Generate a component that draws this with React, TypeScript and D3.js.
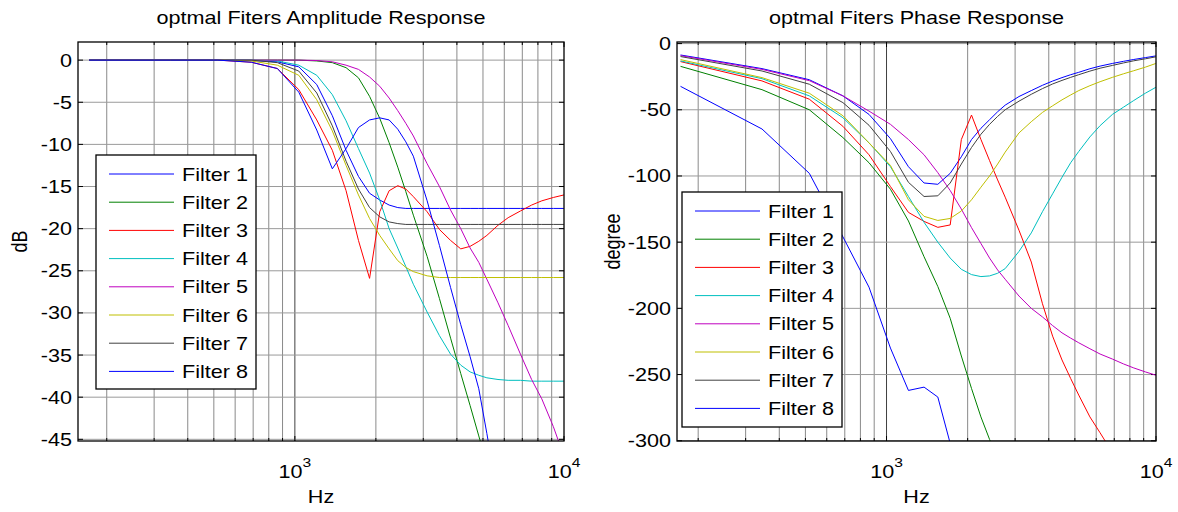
import React from "react";
import * as d3 from "d3";

// ---------- data ----------
const FREQ = [172, 345, 517, 689, 861, 1034, 1206, 1378, 1550, 1723, 1895, 2067, 2240, 2412, 2584, 2756, 3101, 3445, 3790, 4134, 4479, 4824, 5168, 5685, 6202, 6891, 7580, 8269, 9130, 9992];

const SERIES = ["Filter 1", "Filter 2", "Filter 3", "Filter 4", "Filter 5", "Filter 6", "Filter 7", "Filter 8"];
const COLORS = ["#0000ff", "#008000", "#ff0000", "#00bfbf", "#bf00bf", "#bfbf00", "#404040", "#0000ff"];

type V = number | null;
const AMP_F1: V[] = [0, 0, 0, -0.05, -0.2, -0.8, -2.9, -6.6, -10.7, -13.8, -15.8, -16.6, -17.2, -17.5, -17.6, -17.6, -17.6, -17.6, -17.6, -17.6, -17.6, -17.6, -17.6, -17.6, -17.6, -17.6, -17.6, -17.6, -17.6, -17.6];
const AMP_F2: V[] = [0, 0, 0, 0, 0, 0, -0.1, -0.3, -0.9, -2.1, -4.3, -6.9, -9.8, -12.7, -15.6, -18.4, -23.3, -28.3, -33.0, -37.2, -41.0, -44.6, -48.0, null, null, null, null, null, null, null];
const AMP_F3: V[] = [0, 0, 0, -0.25, -1.0, -3.5, -7.1, -10.7, -15.5, -21.4, -25.9, -18.0, -15.5, -14.9, -15.3, -16.2, -18.0, -20.1, -21.4, -22.4, -22.1, -21.5, -20.8, -19.6, -18.7, -17.9, -17.2, -16.7, -16.3, -16.0];
const AMP_F4: V[] = [0, 0, 0, 0, -0.1, -0.6, -1.8, -4.1, -7.2, -10.5, -13.4, -16.6, -20.0, -22.3, -24.5, -26.6, -29.9, -32.7, -34.9, -36.2, -37.0, -37.4, -37.7, -37.9, -38.0, -38.0, -38.1, -38.1, -38.1, -38.1];
const AMP_F5: V[] = [0, 0, 0, 0, 0, 0, -0.05, -0.2, -0.6, -1.1, -2.0, -3.1, -4.5, -6.0, -7.5, -9.0, -12.3, -15.0, -17.8, -20.0, -22.3, -24.0, -26.0, -28.8, -31.5, -34.9, -37.9, -40.2, -43.5, -47.0];
const AMP_F6: V[] = [0, 0, 0, -0.1, -0.6, -1.8, -4.7, -8.4, -12.5, -16.0, -18.8, -20.8, -22.4, -23.8, -24.6, -25.1, -25.6, -25.8, -25.8, -25.8, -25.8, -25.8, -25.8, -25.8, -25.8, -25.8, -25.8, -25.8, -25.8, -25.8];
const AMP_F7: V[] = [0, 0, 0, 0, -0.3, -1.3, -3.9, -7.8, -12.0, -15.3, -17.5, -18.6, -19.2, -19.4, -19.5, -19.5, -19.5, -19.5, -19.5, -19.5, -19.5, -19.5, -19.5, -19.5, -19.5, -19.5, -19.5, -19.5, -19.5, -19.5];
const AMP_F8: V[] = [0, 0, 0, -0.25, -1.0, -3.8, -8.3, -12.9, -10.5, -8.0, -7.1, -6.85, -7.1, -8.2, -9.7, -11.4, -16.7, -22.0, -27.0, -31.4, -35.2, -39.0, -44.3, -52.0, null, null, null, null, null, null];

const PH_F1: V[] = [-8.6, -18.9, -27.3, -39.5, -53.5, -71.8, -93, -105.3, -106.3, -98, -85.5, -72.5, -64, -57.5, -51.5, -46.5, -40, -35.5, -31.5, -28.3, -25.7, -23.5, -21.7, -19, -17, -15, -13.4, -12, -10.6, -9.3];
const PH_F2: V[] = [-17.2, -34.8, -50, -71, -90, -110, -134, -161, -183.5, -207.5, -236, -260.5, -282, -299, -314, null, null, null, null, null, null, null, null, null, null, null, null, null, null, null];
const PH_F3: V[] = [-13.6, -28.2, -42, -62.5, -84, -108, -127.5, -134.3, -138.8, -137, -72.5, -54, -72.4, -88.4, -103, -116, -141, -165, -196.5, -221, -239, -253, -265.5, -282, -294, -309, null, null, null, null];
const PH_F4: V[] = [-13.1, -26.5, -39.5, -56, -75, -93, -115.5, -135, -150, -162, -170.5, -174.5, -176, -175.5, -173.5, -170, -157, -143, -127, -113.5, -101, -90, -81.5, -70.5, -62, -53.5, -48, -43, -37.5, -33];
const PH_F5: V[] = [-9.1, -19.5, -28, -39.5, -51, -61, -72.5, -84, -97.5, -111, -125, -139, -151, -162, -171, -178, -190.7, -200, -206.5, -213, -218.5, -222.5, -226, -230.5, -234.5, -238.3, -242, -245, -248, -250.5];
const PH_F6: V[] = [-12.1, -25.7, -37.5, -54.5, -75, -92, -118, -130.5, -133.6, -132.1, -126.5, -118, -108.5, -100, -91, -82, -67.5, -59, -52, -47, -42.5, -38.8, -35.5, -31.8, -28.8, -25.5, -22.8, -20.5, -17.8, -15];
const PH_F7: V[] = [-9.8, -20.7, -30.7, -44.6, -61.7, -81.5, -104.8, -115.5, -115, -105.3, -91, -78.5, -68.5, -61, -55, -50, -43.5, -38.3, -34, -30.5, -27.8, -25.5, -23.5, -20.8, -18.6, -16.5, -14.6, -13, -11.5, -10.0];
const PH_F8: V[] = [-32.3, -64.5, -98, -146, -184, -230, -262, -259.5, -267, -302, null, null, null, null, null, null, null, null, null, null, null, null, null, null, null, null, null, null, null, null];

const AMP = [AMP_F1, AMP_F2, AMP_F3, AMP_F4, AMP_F5, AMP_F6, AMP_F7, AMP_F8];
const PHASE = [PH_F1, PH_F2, PH_F3, PH_F4, PH_F5, PH_F6, PH_F7, PH_F8];

const AMP_TICKS = [0, -5, -10, -15, -20, -25, -30, -35, -40, -45];
const PHASE_TICKS = [0, -50, -100, -150, -200, -250, -300];
const GRID_FREQS = [200, 300, 400, 500, 600, 700, 800, 900, 1000, 2000, 3000, 4000, 5000, 6000, 7000, 8000, 9000, 10000];
const X_LABELS = [{ f: 1000, exp: "3" }, { f: 10000, exp: "4" }];

// ---------- styling ----------
const FONT = "'Liberation Sans', Arial, sans-serif";
const SX = 1.2;
const FS = 18;

function Txt(p: { x: number; y: number; anchor?: string; size?: number; rotate?: number; children: any }) {
  const t = `translate(${p.x},${p.y}) scale(${SX},1)` + (p.rotate ? ` rotate(${p.rotate})` : "");
  return (
    <text transform={t} textAnchor={p.anchor || "start"} fontSize={p.size || FS} fontFamily={FONT} fill="#000">
      {p.children}
    </text>
  );
}

type PanelCfg = {
  id: string;
  x0: number; x1: number; y0: number; y1: number;
  fmin: number; fmax: number;
  ydom: [number, number];
  yticks: number[];
  data: V[][];
  title: string;
  ylabel: string;
  ylabelX: number;
  legend: { x: number; y: number; w: number; h: number };
};

function Panel({ c }: { c: PanelCfg }) {
  const xs = d3.scaleLog().domain([c.fmin, c.fmax]).range([c.x0, c.x1]);
  const ys = d3.scaleLinear().domain(c.ydom).range([c.y1, c.y0]);
  const line = d3
    .line<[number, V]>()
    .defined((d) => d[1] !== null)
    .x((d) => xs(d[0]))
    .y((d) => ys(d[1] as number));
  const cx = (c.x0 + c.x1) / 2;
  const cy = (c.y0 + c.y1) / 2;
  return (
    <g>
      <defs>
        <clipPath id={`clip-${c.id}`}>
          <rect x={c.x0} y={c.y0} width={c.x1 - c.x0} height={c.y1 - c.y0} />
        </clipPath>
      </defs>
      {/* grid */}
      {GRID_FREQS.filter((f) => f > c.fmin && f < c.fmax).map((f) => (
        <line key={"gx" + f} x1={xs(f)} x2={xs(f)} y1={c.y0} y2={c.y1}
          stroke={f === 1000 ? "#404040" : "#8a8a8a"} strokeWidth={1} />
      ))}
      {c.yticks.map((t) => (
        <line key={"gy" + t} x1={c.x0} x2={c.x1} y1={ys(t)} y2={ys(t)} stroke="#9a9a9a" strokeWidth={1} />
      ))}
      {/* ticks */}
      {GRID_FREQS.filter((f) => f > c.fmin && f <= c.fmax).map((f) => {
        const L = f === 1000 || f === 10000 ? 5 : 3;
        return (
          <g key={"tx" + f}>
            <line x1={xs(f)} x2={xs(f)} y1={c.y1} y2={c.y1 - L} stroke="#000" />
            <line x1={xs(f)} x2={xs(f)} y1={c.y0} y2={c.y0 + L} stroke="#000" />
          </g>
        );
      })}
      {c.yticks.map((t) => (
        <g key={"ty" + t}>
          <line x1={c.x0} x2={c.x0 + 5} y1={ys(t)} y2={ys(t)} stroke="#000" />
          <line x1={c.x1} x2={c.x1 - 5} y1={ys(t)} y2={ys(t)} stroke="#000" />
        </g>
      ))}
      {/* data */}
      <g clipPath={`url(#clip-${c.id})`}>
        {c.data.map((vals, i) => (
          <path key={"s" + i}
            d={line(FREQ.map((f, j) => [f, vals[j]] as [number, V])) || ""}
            fill="none" stroke={COLORS[i]} strokeWidth={1} />
        ))}
      </g>
      {/* frame */}
      <rect x={c.x0} y={c.y0} width={c.x1 - c.x0} height={c.y1 - c.y0} fill="none" stroke="#000" strokeWidth={1.3} />
      {/* y tick labels */}
      {c.yticks.map((t) => (
        <Txt key={"yl" + t} x={c.x0 - 6} y={ys(t) + 6.5} anchor="end">{String(t)}</Txt>
      ))}
      {/* x tick labels */}
      {X_LABELS.map((l) => (
        <text key={"xl" + l.f} transform={`translate(${xs(l.f)},478) scale(${SX},1)`} textAnchor="middle"
          fontSize={FS} fontFamily={FONT} fill="#000">
          10<tspan dy={-11} fontSize={13}>{l.exp}</tspan>
        </text>
      ))}
      <Txt x={cx} y={503} anchor="middle">Hz</Txt>
      <Txt x={cx} y={24} anchor="middle">{c.title}</Txt>
      <Txt x={c.ylabelX} y={cy} anchor="middle" rotate={-90}>{c.ylabel}</Txt>
      {/* legend */}
      <g>
        <rect x={c.legend.x} y={c.legend.y} width={c.legend.w} height={c.legend.h} fill="#fff" stroke="#000" strokeWidth={1.3} />
        {SERIES.map((s, i) => {
          const yy = c.legend.y + 19 + i * 28.2;
          return (
            <g key={"lg" + i}>
              <line x1={c.legend.x + 13} x2={c.legend.x + 78} y1={yy} y2={yy} stroke={COLORS[i]} strokeWidth={1} />
              <Txt x={c.legend.x + 86} y={yy + 6.5}>{s}</Txt>
            </g>
          );
        })}
      </g>
    </g>
  );
}

const LEFT: PanelCfg = {
  id: "amp", x0: 78, x1: 564, y0: 42, y1: 441, fmin: 156.4, fmax: 10000,
  ydom: [-45.2, 2.15], yticks: AMP_TICKS, data: AMP,
  title: "optmal Fiters Amplitude Response", ylabel: "dB", ylabelX: 26.5,
  legend: { x: 96, y: 155, w: 160, h: 234 },
};
const RIGHT: PanelCfg = {
  id: "ph", x0: 677, x1: 1156, y0: 42, y1: 441, fmin: 166.9, fmax: 10000,
  ydom: [-300.2, 1.2], yticks: PHASE_TICKS, data: PHASE,
  title: "optmal Fiters Phase Response", ylabel: "degree", ylabelX: 620,
  legend: { x: 682, y: 192, w: 160, h: 235 },
};

export default function App() {
  return (
    <svg width={1178} height={512} style={{ position: "absolute", left: 0, top: 0, background: "#fff" }}>
      <rect x={0} y={0} width={1178} height={512} fill="#fff" />
      <Panel c={LEFT} />
      <Panel c={RIGHT} />
    </svg>
  );
}
